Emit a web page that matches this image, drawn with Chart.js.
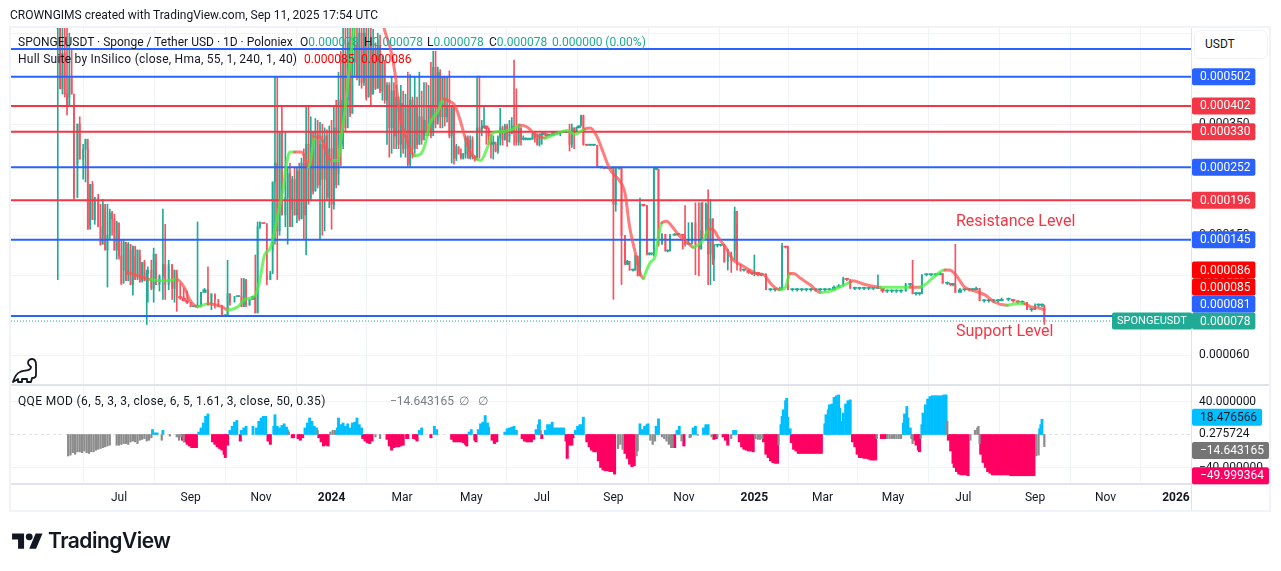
<!DOCTYPE html>
<html>
<head>
<meta charset="utf-8">
<title>SPONGEUSDT</title>
<script src="https://cdn.jsdelivr.net/npm/chart.js@4"></script>
<style>
  body { margin: 0; background: #fff; font-family: Roboto, sans-serif; font-size: 12px; color: #131722; }
  #wrap { position: relative; width: 1281px; height: 571px; overflow: hidden; }
  #myChart { position: absolute; left: 0; top: 0; }
  .txt { position: absolute; white-space: nowrap; line-height: 16px; }
  .up { color: #22ab94; }
  .hot { color: #ff0000; }
  .usdt { position: absolute; left: 1194px; top: 30px; width: 72px; height: 27px; border: 1px solid #f0f3fa; border-radius: 6px; line-height: 27px; text-indent: 10px; background: #fff; }
  .note { position: absolute; white-space: nowrap; color: #f23645; font-size: 16px; line-height: 20px; }
  .brand { position: absolute; left: 48px; top: 527px; font-family: Inter, Roboto, sans-serif; font-weight: 600; font-size: 21px; line-height: 28px; color: #131722; letter-spacing: -0.5px; }
</style>
</head>
<body>
<div id="wrap">
  <canvas id="myChart" width="1281" height="571"></canvas>

  <div class="txt" style="left:10px;top:7px">CROWNGIMS created with TradingView.com, Sep 11, 2025 17:54 UTC</div>

  <div class="txt" style="left:18px;top:34px">SPONGEUSDT · Sponge / Tether USD · 1D · Poloniex</div>
  <div class="txt" style="left:300px;top:34px">O<span class="up">0.000078</span></div>
  <div class="txt" style="left:364px;top:34px">H<span class="up">0.000078</span></div>
  <div class="txt" style="left:427px;top:34px">L<span class="up">0.000078</span></div>
  <div class="txt" style="left:489px;top:34px">C<span class="up">0.000078</span></div>
  <div class="txt up" style="left:552px;top:34px">0.000000 (0.00%)</div>

  <div class="txt" style="left:18px;top:51px;letter-spacing:0.24px">Hull Suite by InSilico (close, Hma, 55, 1, 240, 1, 40)</div>
  <div class="txt hot" style="left:304px;top:51px">0.000085</div>
  <div class="txt hot" style="left:361px;top:51px">0.000086</div>

  <div class="txt" style="left:18px;top:393px;letter-spacing:0.34px">QQE MOD (6, 5, 3, 3, close, 6, 5, 1.61, 3, close, 50, 0.35)</div>
  <div class="txt" style="left:390px;top:393px;color:#787b86">−14.643165</div>
  <div class="txt" style="left:459px;top:393px;color:#787b86">∅</div>
  <div class="txt" style="left:478px;top:393px;color:#787b86">∅</div>

  <div class="usdt">USDT</div>
  <div class="note" style="left:956px;top:211px">Resistance Level</div>
  <div class="note" style="left:956px;top:321px">Support Level</div>

  <svg style="position:absolute;left:12px;top:358px" width="26" height="27" viewBox="0 0 26 27">
    <path d="M1 24 C3 18 5 15 8 14 C11 12 14 13 16 12 C18 12 19 10 19 9 C18 8 16 7 16 5 C16 2 18 1 20 1 C23 1 24 3 24 7 L24 17 C24 19 22 20 20 20 L19 24 L15 24 L15 21 L10 21 L10 24 L6 24 L6 21 Z" fill="none" stroke="#131722" stroke-width="1.8" stroke-linejoin="round"/>
  </svg>
  <svg style="position:absolute;left:12px;top:530px" width="31" height="24" viewBox="0 0 36 28">
    <path d="M14 22H7V11H0V4h14v18zM28 22h-8l7.5-18h8L28 22z" fill="#131722"/><circle cx="20" cy="8" r="4" fill="#131722"/>
  </svg>
  <div class="brand">TradingView</div>
</div>

<script>
// prices are in millionths of USDT, days count from 1 Jul 2023
const priceUnit = 1e-6;

const timeTickDays = [0, 62, 123, 184, 245, 305, 366, 428, 489, 550, 609, 670, 731, 793, 854, 915];
const timeTickLabels = ["Jul", "Sep", "Nov", "2024", "Mar", "May", "Jul", "Sep", "Nov", "2025", "Mar", "May", "Jul", "Sep", "Nov", "2026"];
const priceTicks = [700, 350, 190, 150, 110, 60];
const qqeTicks = [40, 0.275724, -40];

const blueLevels = [620, 502, 252, 145, 81];
const redLevels = [402, 330, 196];
const lastPrice = 78;
const hullTags = [86, 85];

const candleDays = [
  -53,-51,-49,-47,-45,-43,-41,-39,-36,-34,
  -31,-29,-27,-25,-23,-21,-18,-16,-14,-12,
  -10,-8,-6,-4,-2,0,2,4,6,8,
  10,12,14,16,18,20,22,24,25,28,
  30,32,35,38,40,43,46,48,50,53,
  56,59,62,65,68,71,74,77,80,83,
  86,89,92,94,96,100,103,106,108,110,
  113,116,118,120,122,125,128,131,133,135,
  137,139,141,144,146,148,150,152,154,156,
  158,160,162,164,166,168,170,172,174,176,
  178,180,182,184,186,188,190,192,194,196,
  198,200,202,204,206,208,210,212,214,216,
  218,220,222,224,226,228,230,232,234,236,
  238,240,242,244,246,248,250,252,254,256,
  258,260,262,264,266,268,270,272,274,276,
  278,280,282,284,286,288,290,292,294,296,
  298,300,302,304,306,308,310,312,314,316,
  318,320,322,324,326,328,330,332,334,336,
  338,340,342,344,346,348,350,352,354,356,
  358,360,362,364,366,368,370,372,374,376,
  378,380,382,386,390,392,394,396,398,400,
  402,405,408,411,414,417,420,423,426,428,
  430,433,435,438,440,442,445,447,449,451,
  454,457,459,461,463,465,467,470,473,475,
  477,481,484,488,490,493,496,499,502,504,
  505,508,510,512,514,515,518,521,524,527,
  530,533,535,538,541,545,548,550,553,556,
  560,564,568,572,574,577,579,583,587,591,
  595,599,603,607,611,615,619,623,627,630,
  633,637,641,645,649,653,657,661,665,669,
  673,677,681,685,687,690,693,695,699,703,
  707,711,713,717,720,722,724,728,732,736,
  739,742,745,749,753,757,761,764,770,774,
  778,782,786,790,793,796,799,801
];
const candleClose = [
  760,458,600,440,400,500,440,200,350,268,
  289,312,157,221,169,200,160,140,190,134,
  150,178,170,134,165,128,104,142,106,140,
  103,138,107,134,105,122,106,112,115,100,
  130,103,110,120,103,120,100,115,94,93,
  91,90,87,87,88,97,99,89,96,92,
  87,81,81,96,90,94,94,87,107,88,
  92,94,83,160,165,164,107,112,225,260,
  155,330,175,200,240,160,230,175,245,170,
  260,175,300,195,330,210,330,220,300,230,
  320,200,290,190,340,220,420,300,580,340,
  650,380,560,640,500,700,480,700,430,650,
  440,620,460,640,450,560,420,470,340,450,
  320,430,300,410,290,400,258,420,290,400,
  300,370,310,360,330,400,320,540,350,520,
  370,500,370,400,320,400,270,295,280,270,
  278,315,270,310,272,270,340,330,340,345,
  338,320,300,305,285,315,340,310,345,305,
  325,345,330,305,340,312,312,312,312,312,
  325,315,300,322,325,325,320,322,322,328,
  325,327,328,330,300,340,330,340,345,373,
  300,298,298,298,252,252,250,250,250,190,
  250,250,150,120,123,115,115,128,110,190,
  188,130,130,130,248,248,140,151,133,133,
  150,151,151,150,140,141,165,140,135,155,
  150,190,130,170,125,139,139,139,123,130,
  124,180,120,115,115,113,112,113,111,111,
  99,99,99,100,138,137,99,99,99,99,
  99,99,99,99,99,99,101,102,108,107,
  100,100,100,100,100,100,100,98,98,98,
  98,98,103,103,96,96,96,111,111,111,
  111,112,104,104,103,103,97,99,99,99,
  99,100,91,91,91,91,91,92,92,91,
  90,90,85,85,88,88,88,78
];
const candleHigh = [
  900,900,900,800,760,700,620,408,350,370,
  300,312,289,221,226,200,205,190,197,183,
  190,183,180,176,167,155,145,144,140,142,
  134,138,128,134,128,122,124,115,118,124,
  136,122,111,183,163,124,120,115,112,104,
  100,98,88,87,166,97,100,118,96,95,
  88,88,82,124,96,94,94,108,108,107,
  92,94,129,166,166,164,110,114,225,502,
  502,330,402,330,250,260,235,250,250,260,
  270,290,402,402,370,300,365,360,355,350,
  340,335,345,360,400,420,520,610,900,900,
  900,900,900,900,900,900,800,800,750,760,
  750,720,650,700,690,590,570,480,480,500,
  480,470,420,470,450,440,520,510,430,500,
  430,520,450,480,480,470,560,610,610,540,
  530,500,420,500,525,400,400,300,290,290,
  280,320,320,320,318,275,505,505,360,400,
  345,340,325,320,300,320,395,345,350,350,
  360,368,570,458,350,340,320,315,314,314,
  330,330,325,325,328,326,325,323,323,330,
  330,328,330,332,350,350,340,342,346,375,
  375,299,299,299,298,253,252,251,251,252,
  252,252,252,142,124,116,116,129,128,199,
  190,188,131,131,250,249,248,152,151,134,
  151,152,152,151,188,165,165,192,192,192,
  193,192,212,197,170,140,140,140,140,135,
  132,186,163,116,116,114,113,129,112,112,
  112,100,100,101,141,138,138,100,100,100,
  100,100,100,100,100,100,102,103,109,108,
  107,101,101,101,101,101,111,100,99,99,
  99,99,104,104,124,97,97,111,112,112,
  112,113,112,105,104,104,140,100,100,100,
  100,101,100,92,92,92,92,93,93,92,
  91,91,90,86,89,89,89,88
];
const candleLow = [
  107,458,440,430,375,430,440,197,258,268,
  230,225,157,163,169,163,160,139,150,134,
  101,145,150,134,125,125,103,115,106,111,
  103,95,107,110,105,107,106,76,90,99,
  90,103,98,92,92,99,92,90,84,92,
  91,89,87,87,87,87,97,88,85,86,
  87,81,81,81,88,94,94,87,87,87,
  88,92,83,83,158,164,103,107,134,140,
  107,150,175,160,140,160,183,175,165,168,
  170,145,129,190,200,205,210,215,145,150,
  155,195,185,157,183,215,240,255,290,330,
  420,370,380,500,490,470,460,470,420,430,
  405,440,455,460,445,420,410,300,272,280,
  290,290,290,272,280,272,252,252,270,280,
  290,300,300,320,320,320,315,330,340,360,
  340,340,345,355,315,260,258,265,278,268,
  268,270,270,268,268,264,268,270,320,340,
  300,300,270,268,283,280,298,298,310,295,
  320,325,298,298,298,298,310,310,310,310,
  312,305,298,296,300,324,318,320,321,322,
  324,325,320,328,285,293,290,330,340,345,
  298,297,297,297,252,250,249,249,249,92,
  180,248,103,120,122,115,114,115,110,111,
  187,129,129,129,128,247,138,140,133,132,
  133,150,150,135,138,140,140,111,110,135,
  145,145,103,103,120,106,137,138,122,115,
  113,134,115,114,114,112,111,110,110,110,
  99,98,98,99,99,136,99,98,98,98,
  98,98,98,98,98,99,100,101,102,106,
  100,99,99,99,99,99,100,97,97,97,
  97,97,98,102,96,95,95,96,110,110,
  110,111,104,103,102,102,97,98,98,98,
  98,99,91,90,90,90,90,91,91,90,
  89,89,85,84,85,87,87,76
];

const hmaDays = [
  7,23,27,40,50,57,61,68,77,89,
  94,103,109,118,122,126,131,138,142,145,
  148,152,157,159,164,170,174,181,185,190,
  191,196,200,204,209,222,229,235,239,243,
  248,252,256,261,265,269,276,281,287,291,
  295,300,304,310,313,319,324,330,341,347,
  353,360,369,377,388,395,403,408,414,419,
  425,434,438,442,447,451,454,456,460,464,
  467,470,474,479,484,493,497,503,507,510,
  514,519,525,532,538,546,552,558,565,572,
  577,581,584,590,598,607,616,624,633,635,
  646,659,663,676,685,693,698,704,715,719,
  725,732,741,750,758,769,776,784,789,797,801
];
const hmaValues = [
  113,108,107,106,107,100,92,87,89,87,
  85,87,92,95,107,129,136,179,213,258,
  283,283,283,281,252,317,317,272,265,265,
  289,400,565,745,950,1100,740,622,514,375,
  320,289,275,278,300,350,385,424,415,402,
  364,312,283,268,265,293,328,330,337,347,
  343,324,315,324,333,324,337,340,317,283,
  248,225,207,160,131,113,108,113,122,127,
  149,165,167,160,151,141,137,141,147,157,
  157,147,137,124,120,115,112,111,103,99,
  101,112,112,108,103,97,98,101,105,106,
  103,101,101,101,101,101,103,108,115,115,
  110,101,98,95,90,88,89,89,87,86,85
];
const hmaRising = [
  0,0,1,1,0,0,0,1,0,0,
  1,1,1,1,1,1,1,1,1,1,
  1,0,0,0,1,0,0,0,1,1,
  1,1,1,1,0,0,0,0,0,0,
  0,0,1,1,1,1,1,0,0,0,
  0,0,0,1,1,1,1,1,1,0,
  0,0,1,1,1,1,0,0,0,0,
  0,0,0,0,0,0,1,1,1,1,
  1,0,0,0,0,0,1,1,1,0,
  0,0,0,0,0,0,0,0,0,1,
  1,0,0,0,0,1,1,1,0,0,
  0,1,1,1,0,1,1,1,0,0,
  0,0,0,0,0,1,1,0,0,0,0
];

const qqeGrayDays = [
  -44,-42,-40,-38,-36,-34,-32,-30,-28,-26,-24,-22,-20,-18,-16,-14,-12,-10,-8,
  -2,0,2,4,6,8,10,12,14,16,18,20,22,24,26,28,37,44,50,52,54,56,
  147,172,183,185,187,222,226,365,432,434,436,448,449,460,462,464,
  470,472,474,476,478,479,487,494,495,501,513,518,530,551,553,555,557,571,
  656,665,667,669,671,673,675,677,686,687,694,717,737,741,743,744,745,794,796,801
];
const qqeGrayValues = [
  -26,-25,-22,-24,-21,-21,-22,-20,-22,-23,-21,-21,-19,-18,-17,-16,-15,-14,-13,
  -13,-13,-12,-11,-11,-12,-9,-8,-9,-11,-7,-6,-5,-8,-7,-4,-7,-2,-3,-7,-3,-9,
  3,5,3,5,5,-3,-5,5,-17,-12,-18,-26,-20,-7,-12,-8,
  -3,-5,-8,-12,-16,-16,-8,-4,-3,-1,-3,-3,-5,-5,-6,-6,-5,-13,
  -5,-5,-5,-5,-5,-5,-5,-5,-5,-11,-5,16,-7,5,8,10,-11,-26,-25,-14.64
];
const qqeBlueDays = [
  29,31,33,38,69,71,73,75,77,96,98,100,102,106,108,110,116,119,121,123,125,127,
  134,135,137,139,141,143,145,146,161,163,165,167,169,171,
  189,190,192,194,196,198,200,202,204,206,208,210,260,262,273,275,303,305,
  311,313,315,317,319,320,334,336,338,340,342,344,361,363,364,
  369,371,373,375,377,379,381,383,385,395,397,399,401,402,
  451,453,455,457,458,465,467,483,485,497,499,506,508,510,532,534,
  573,574,575,577,578,579,581,611,612,614,615,617,619,621,623,624,626,627,629,631,633,
  679,680,682,683,685,695,696,698,700,702,704,706,708,710,712,714,716,797,798,799
];
const qqeBlueValues = [
  6,2,2,5,3,8,14,22,25,5,10,15,17,5,8,10,10,8,16,20,22,22,
  10,24,10,8,11,13,9,5,8,14,20,16,10,8,
  8,20,12,14,10,13,8,14,15,20,12,8,5,8,10,6,3,6,
  6,13,15,23,14,9,3,7,8,9,10,5,6,12,18,
  5,12,12,15,8,8,8,8,8,5,10,12,12,21,
  13,6,10,12,13,10,19,5,10,8,10,8,12,12,5,5,
  12,22,30,41,44,21,7,13,24,30,36,37,45,47,48,32,16,26,37,41,42,
  14,25,34,20,8,12,26,36,43,46,47,47,47,47,47,48,48,7,12,18.48
];
const qqePinkDays = [
  55,57,59,61,63,65,67,81,83,85,87,89,91,92,94,105,129,131,150,151,155,157,159,
  173,175,177,179,181,211,213,215,217,219,232,234,236,238,240,242,244,246,249,250,255,257,258,270,
  288,290,292,294,296,298,300,301,308,309,323,325,327,349,351,353,355,357,359,366,
  387,388,390,392,393,405,407,409,411,413,415,417,419,421,423,425,427,429,
  438,440,442,444,446,481,489,515,517,523,525,527,537,539,541,543,545,547,549,
  558,560,562,564,566,568,570,582,584,586,588,590,592,594,596,598,600,602,604,606,608,
  635,637,639,641,643,645,647,649,651,653,655,660,662,664,688,690,692,693,
  718,720,722,723,725,727,729,731,733,735,746,748,750,752,754,756,
  758,760,762,764,766,768,770,772,774,776,778,780,782,784,786,788,790,792
];
const qqePinkValues = [
  -7,-9,-12,-14,-16,-16,-16,-9,-12,-15,-17,-19,-24,-28,-13,-8,-8,-12,-4,-4,-5,-7,-4,
  -4,-9,-14,-13,-14,-5,-8,-10,-11,-8,-6,-14,-19,-16,-15,-15,-14,-13,-5,-5,-5,-6,-8,-4,
  -6,-9,-9,-9,-9,-10,-12,-14,-7,-9,-7,-11,-9,-5,-8,-9,-9,-9,-6,-5,
  -8,-29,-13,-13,-4,-9,-15,-19,-21,-21,-32,-40,-43,-44,-44,-45,-45,-48,
  -23,-29,-36,-39,-38,-16,-14,-6,-5,-3,-7,-13,-9,-15,-18,-19,-20,-20,-21,
  -9,-24,-28,-32,-34,-35,-35,-10,-18,-20,-23,-23,-23,-23,-23,-23,-23,-23,-23,-23,-23,
  -9,-15,-24,-28,-28,-29,-29,-30,-31,-31,-31,-5,-5,-5,-7,-13,-19,-21,
  -7,-20,-35,-40,-45,-48,-49,-49,-49,-50,-24,-34,-40,-45,-47,-49,
  -49,-49,-49,-49,-49,-49,-49,-50,-50,-50,-50,-50,-50,-50,-50,-50,-50,-50
];
const qqeBlueLast = 18.476566;
const qqeGrayLast = -14.643165;
const qqePinkLast = -49.999364;

const teal = "#22ab94";
const red = "#f23645";
const candleRed = "#f7525f";
const blue = "#2962ff";
const gridColor = "#f0f3fa";
const edgeColor = "#e0e3eb";
const dayMin = -93.5;
const dayMax = 928;

const candleOpen = candleClose.map((c, i) => i === 0 ? c : candleClose[i - 1]);
const candleColor = i => candleClose[i] >= candleOpen[i] ? teal : candleRed;
const candleIdx = candleDays.map((d, i) => i);
// near-flat candles read as dashes in the picture, so they get a wider body
const isFlat = i => Math.abs(candleClose[i] - candleOpen[i]) / candleClose[i] < 0.025;
const bodyIdx = candleIdx.filter(i => !isFlat(i));
const dashIdx = candleIdx.filter(isFlat);
const bodySlice = idx => idx.map(i => ({ x: candleDays[i], y: [candleOpen[i], candleClose[i]] }));
const wickBars = candleDays.map((d, i) => ({ x: d, y: [candleLow[i], candleHigh[i]] }));
const pairs = (days, values) => days.map((d, i) => ({ x: d, y: values[i] }));
const flatLine = v => [{ x: dayMin, y: v }, { x: dayMax, y: v }];

const levelSets = [];
blueLevels.forEach(v => levelSets.push({ type: "line", data: flatLine(v), borderColor: blue, borderWidth: 2, pointRadius: 0, yAxisID: "y", order: 2 }));
redLevels.forEach(v => levelSets.push({ type: "line", data: flatLine(v), borderColor: red, borderWidth: 2, pointRadius: 0, yAxisID: "y", order: 2 }));

const fmtPrice = v => (v * priceUnit).toFixed(6);
const fmtQqe = v => v.toFixed(6).replace("-", "\u2212");

function drawTag(c, left, y, text, bg, fg) {
  c.font = "12px Roboto, sans-serif";
  c.fillStyle = bg;
  c.beginPath();
  c.roundRect(left, y - 8.5, c.measureText(text).width + 13, 17, 2);
  c.fill();
  c.fillStyle = fg;
  c.textAlign = "left";
  c.textBaseline = "middle";
  c.fillText(text, left + 8, y + 0.5);
}

const chrome = {
  id: "chrome",
  beforeDraw(chart) {
    const c = chart.ctx;
    c.save();
    c.fillStyle = "#fff";
    c.fillRect(0, 0, chart.width, chart.height);
    c.strokeStyle = gridColor;
    c.lineWidth = 2;
    c.strokeRect(10, 27, 1260, 484);
    c.restore();
  },
  afterDraw(chart) {
    const c = chart.ctx;
    const area = chart.chartArea;
    const py = chart.scales.y;
    const qy = chart.scales.yq;
    c.save();
    c.strokeStyle = edgeColor;
    c.lineWidth = 2;
    c.beginPath();
    c.moveTo(area.left, qy.top); c.lineTo(1269, qy.top);
    c.moveTo(area.left, qy.bottom); c.lineTo(1269, qy.bottom);
    c.stroke();
    c.lineWidth = 1;
    c.beginPath();
    c.moveTo(area.right + 0.5, py.top); c.lineTo(area.right + 0.5, 510);
    c.stroke();

    // price tags, pushed upwards when they would overlap
    const tags = [];
    blueLevels.slice(1).forEach(v => tags.push({ v: v, bg: blue }));
    redLevels.forEach(v => tags.push({ v: v, bg: red }));
    hullTags.forEach(v => tags.push({ v: v, bg: "#ff0000" }));
    tags.push({ v: lastPrice, bg: teal });
    tags.sort((a, b) => a.v - b.v);
    let prevY = Infinity;
    tags.forEach(t => {
      t.y = Math.min(py.getPixelForValue(t.v), prevY - 17);
      prevY = t.y;
      drawTag(c, area.right + 1, t.y, fmtPrice(t.v), t.bg, "#fff");
    });

    // symbol tag next to the last price
    const lastY = py.getPixelForValue(lastPrice);
    c.fillStyle = teal;
    c.beginPath();
    c.roundRect(1112, lastY - 8.5, area.right - 1112 + 1, 17, 2);
    c.fill();
    c.fillStyle = "#fff";
    c.font = "11px Roboto, sans-serif";
    c.fillText("SPONGEUSDT", 1117, lastY + 0.5);

    drawTag(c, area.right + 1, qy.getPixelForValue(qqeBlueLast) - 2, fmtQqe(qqeBlueLast), "#00bfff", "#131722");
    drawTag(c, area.right + 1, qy.getPixelForValue(qqeGrayLast) + 4, fmtQqe(qqeGrayLast), "#757575", "#fff");
    drawTag(c, area.right + 1, qy.getPixelForValue(qqePinkLast), fmtQqe(qqePinkLast), "#ff0062", "#fff");
    c.restore();
  }
};

const ctx = document.getElementById("myChart").getContext("2d");
const myChart = new Chart(ctx, {
  type: "bar",
  plugins: [chrome],
  data: {
    datasets: [
      { type: "line", data: pairs(hmaDays, hmaValues), yAxisID: "y", order: 0, pointRadius: 0, borderWidth: 3,
        cubicInterpolationMode: "monotone", borderCapStyle: "round",
        segment: { borderColor: c => hmaRising[c.p0DataIndex] ? "rgba(70,240,60,0.75)" : "rgba(255,82,82,0.75)" } },
      { type: "line", data: flatLine(lastPrice), yAxisID: "y", order: 3, pointRadius: 0, borderWidth: 1, borderColor: teal, borderDash: [1, 2] },
      ...levelSets,
      { data: bodySlice(bodyIdx), yAxisID: "y", order: 4, grouped: false, barThickness: 1.2, backgroundColor: bodyIdx.map(candleColor) },
      { data: bodySlice(dashIdx), yAxisID: "y", order: 4, grouped: false, barThickness: 3.6, minBarLength: 1, backgroundColor: dashIdx.map(candleColor) },
      { data: wickBars, yAxisID: "y", order: 5, grouped: false, barThickness: 1, backgroundColor: candleIdx.map(candleColor) },
      { type: "line", data: flatLine(0), yAxisID: "yq", order: 6, pointRadius: 0, borderWidth: 1, borderColor: edgeColor, borderDash: [3, 3] },
      { data: pairs(qqeGrayDays, qqeGrayValues), yAxisID: "yq", order: 1, grouped: false, barThickness: 1.6, backgroundColor: "#8c8c8c" },
      { data: pairs(qqeBlueDays, qqeBlueValues), yAxisID: "yq", order: 1, grouped: false, barThickness: 2.2, backgroundColor: "#00bfff" },
      { data: pairs(qqePinkDays, qqePinkValues), yAxisID: "yq", order: 1, grouped: false, barThickness: 2.4, backgroundColor: "#ff0062" }
    ]
  },
  options: {
    responsive: false,
    animation: false,
    events: [],
    layout: { padding: { left: 11, top: 28, right: 12, bottom: 61 } },
    plugins: { legend: { display: false }, tooltip: { enabled: false } },
    scales: {
      x: {
        type: "linear",
        offset: false,
        min: dayMin,
        max: dayMax,
        afterBuildTicks: s => { s.ticks = timeTickDays.map(v => ({ value: v })); },
        afterFit: s => { s.height = 26; },
        grid: { color: gridColor, drawTicks: false },
        border: { display: false },
        ticks: {
          autoSkip: false,
          maxRotation: 0,
          padding: 7,
          color: "#131722",
          font: c => ({ family: "Roboto, sans-serif", size: 12, weight: timeTickLabels[c.index] && timeTickLabels[c.index].startsWith("20") ? "bold" : "normal" }),
          callback: (v, i) => timeTickLabels[i]
        }
      },
      y: {
        type: "logarithmic",
        position: "right",
        stack: "panes",
        stackWeight: 357,
        min: 47.9,
        max: 728,
        afterBuildTicks: s => { s.ticks = priceTicks.map(v => ({ value: v })); },
        afterFit: s => { s.width = 78; },
        grid: { color: gridColor, drawTicks: false },
        border: { display: false },
        // the 0.000700 label sits behind the USDT button, so it stays blank
        ticks: { autoSkip: false, padding: 8, color: "#131722", font: { family: "Roboto, sans-serif", size: 12 }, callback: v => v === priceTicks[0] ? "" : fmtPrice(v) }
      },
      yq: {
        type: "linear",
        position: "right",
        stack: "panes",
        stackWeight: 99,
        min: -60,
        max: 60,
        afterBuildTicks: s => { s.ticks = qqeTicks.map(v => ({ value: v })); },
        afterFit: s => { s.width = 78; },
        grid: { color: c => c.tick && Math.abs(c.tick.value) < 1 ? "transparent" : gridColor, drawTicks: false },
        border: { display: false },
        ticks: { autoSkip: false, padding: 8, color: "#131722", font: { family: "Roboto, sans-serif", size: 12 }, callback: v => fmtQqe(v) }
      }
    }
  }
});
</script>
</body>
</html>
